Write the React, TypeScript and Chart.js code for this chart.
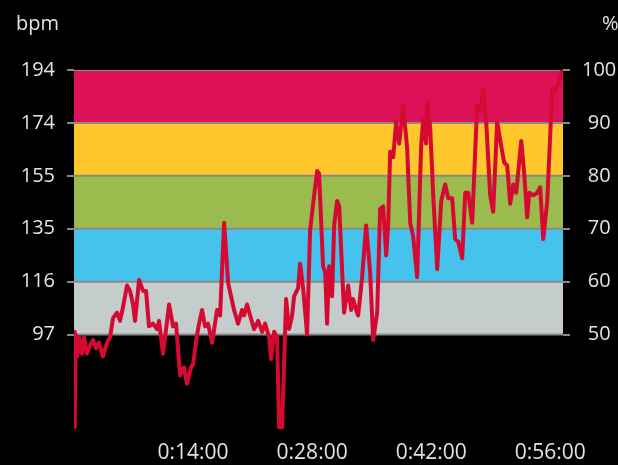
import React, { useEffect, useRef } from "react";
import { Chart, registerables } from "chart.js";

Chart.register(...registerables);

// ---- data ----
const MAX_HR = 194;
const zonePercents = [50, 60, 70, 80, 90, 100];
const zoneColors = ["#c5cccc", "#46c3ec", "#9bbb4e", "#ffc72c", "#dc1158"];
const xTickMinutes = [14, 28, 42, 56];
const X_MIN = 0;
const X_MAX = 57.5;
const Y_MIN = 62;

const timeMinutes = [
  0.0, 0.08, 0.2, 0.4, 0.59, 0.94, 1.18, 1.53, 1.88, 2.24, 2.59, 2.94, 3.41, 3.88, 4.24,
  4.59, 5.06, 5.41, 5.76, 6.24, 6.59, 6.94, 7.18, 7.65, 8.12, 8.47, 8.82, 9.29, 9.76,
  10.0, 10.47, 11.18, 11.65, 12.0, 12.47, 12.94, 13.29, 13.76, 14.0, 14.47, 14.71,
  15.06, 15.41, 15.76, 16.24, 16.82, 17.18, 17.65, 18.12, 18.47, 18.82, 19.29, 19.76,
  20.0, 20.35, 20.71, 21.18, 21.65, 22.12, 22.47, 22.94, 23.18, 23.53, 23.88, 24.12,
  24.47, 24.94, 25.29, 25.65, 25.88, 26.35, 26.59, 26.94, 27.41, 27.76, 28.12, 28.59,
  28.82, 29.29, 29.53, 29.76, 30.0, 30.35, 30.59, 30.94, 31.18, 31.76, 32.24, 32.59,
  32.82, 33.18, 33.41, 33.88, 34.35, 34.82, 35.18, 35.65, 36.0, 36.35, 36.71, 36.94,
  37.18, 37.53, 37.88, 38.24, 38.71, 39.18, 39.53, 39.88, 40.35, 40.82, 41.06, 41.41,
  41.53, 41.88, 42.24, 42.71, 43.18, 43.65, 44.0, 44.47, 44.82, 45.18, 45.65, 46.0,
  46.35, 46.82, 47.41, 47.76, 48.12, 48.47, 48.94, 49.29, 49.76, 50.24, 50.59, 50.94,
  51.29, 51.65, 52.0, 52.59, 52.94, 53.29, 53.53, 54.0, 54.47, 54.82, 55.18, 55.65,
  56.24, 56.59, 56.94, 57.41,
];

const heartRate = [
  98, 63, 97, 89, 96, 90, 96, 90, 93, 95, 92, 94, 89, 94, 96,
  103, 105, 102, 107, 115, 113, 108, 102, 117, 113, 113, 100, 101, 99,
  102, 90, 108, 100, 101, 82, 85, 79, 85, 86, 97, 101,
  106, 100, 101, 94, 106, 104, 138, 116, 111, 106, 101, 106,
  104, 108, 104, 99, 102, 98, 101, 96, 88, 98, 96, 63,
  63, 110, 99, 104, 111, 114, 123, 114, 97, 135, 145, 157,
  156, 122, 120, 101, 122, 111, 137, 146, 144, 105, 115, 106,
  110, 106, 104, 118, 137, 120, 95, 105, 143, 144, 126, 137,
  164, 162, 175, 167, 181, 165, 138, 133, 118, 166, 176, 167,
  182, 173, 148, 121, 146, 152, 147, 147, 132, 131, 125, 149,
  149, 138, 181, 179, 187, 175, 148, 142, 175, 166, 160, 159,
  145, 152, 149, 168, 156, 140, 149, 148, 149, 151, 132, 146,
  187, 186, 189, 194,
];

const TEXT_COLOR = "#e2e2e2";
const GRID_COLOR = "#8a8a8a";
const LINE_COLOR = "#d50a32";
const FONT_FAMILY = '"Open Sans", "Noto Sans", sans-serif';

const titlesPlugin = {
  id: "axisUnitTitles",
  afterDraw(chart: any) {
    const ctx = chart.ctx;
    ctx.save();
    ctx.font = `20px ${FONT_FAMILY}`;
    ctx.fillStyle = TEXT_COLOR;
    ctx.textBaseline = "alphabetic";
    ctx.textAlign = "left";
    ctx.fillText("bpm", 16, 30);
    ctx.fillText("%", 602, 30);
    ctx.restore();
  },
};

export default function App() {
  const canvasRef = useRef<HTMLCanvasElement | null>(null);

  useEffect(() => {
    if (!canvasRef.current) return;
    const levels = zonePercents.map((p) => (p / 100) * MAX_HR);

    const bandDatasets = levels.map((lvl, i) => ({
      type: "line" as const,
      data: [
        { x: X_MIN, y: lvl },
        { x: X_MAX, y: lvl },
      ],
      borderColor: GRID_COLOR,
      borderWidth: 2,
      pointRadius: 0,
      fill: i === 0 ? false : "-1",
      backgroundColor: i === 0 ? "transparent" : zoneColors[i - 1],
      order: 1,
    }));

    const hrDataset = {
      type: "line" as const,
      data: timeMinutes.map((t, i) => ({ x: t, y: heartRate[i] })),
      borderColor: LINE_COLOR,
      borderWidth: 4,
      borderJoinStyle: "round" as const,
      borderCapStyle: "round" as const,
      pointRadius: 0,
      fill: false,
      tension: 0,
      order: 0,
    };

    const setLevels = (scale: any) => {
      scale.ticks = levels.map((v) => ({ value: v }));
    };

    const chart = new Chart(canvasRef.current, {
      type: "line",
      data: { datasets: [hrDataset, ...bandDatasets] as any },
      options: {
        responsive: false,
        animation: false,
        layout: { padding: { top: 70, left: 0, right: 0, bottom: 0 } },
        plugins: {
          legend: { display: false },
          tooltip: { enabled: false },
        },
        scales: {
          x: {
            type: "linear",
            min: X_MIN,
            max: X_MAX,
            afterBuildTicks: (scale: any) => {
              scale.ticks = xTickMinutes.map((v) => ({ value: v }));
            },
            afterFit: (scale: any) => {
              scale.height = 35;
            },
            grid: { display: false, drawTicks: false },
            border: { display: false },
            ticks: {
              color: TEXT_COLOR,
              font: { family: FONT_FAMILY, size: 21 },
              padding: 10,
              maxRotation: 0,
              autoSkip: false,
              callback: (v: any) => `0:${String(v).padStart(2, "0")}:00`,
            },
          },
          y: {
            type: "linear",
            position: "left",
            min: Y_MIN,
            max: MAX_HR,
            afterBuildTicks: setLevels,
            afterFit: (scale: any) => {
              scale.width = 74;
            },
            grid: {
              drawOnChartArea: false,
              drawTicks: true,
              tickLength: 7,
              color: GRID_COLOR,
              lineWidth: 2,
            },
            border: { display: false },
            ticks: {
              color: TEXT_COLOR,
              font: { family: FONT_FAMILY, size: 20 },
              padding: 12,
              autoSkip: false,
              callback: (v: any) => String(Math.floor(Number(v) + 1e-9)),
            },
          },
          yRight: {
            type: "linear",
            position: "right",
            min: Y_MIN,
            max: MAX_HR,
            afterBuildTicks: setLevels,
            afterFit: (scale: any) => {
              scale.width = 55;
            },
            grid: {
              drawOnChartArea: false,
              drawTicks: true,
              tickLength: 7,
              color: GRID_COLOR,
              lineWidth: 2,
            },
            border: { display: false },
            ticks: {
              color: TEXT_COLOR,
              font: { family: FONT_FAMILY, size: 20 },
              padding: 12,
              crossAlign: "center",
              autoSkip: false,
              callback: (v: any) => String(Math.round((Number(v) / MAX_HR) * 100)),
            },
          },
        },
      },
      plugins: [titlesPlugin],
    });

    return () => chart.destroy();
  }, []);

  return (
    <div
      style={{
        position: "fixed",
        left: 0,
        top: 0,
        width: 618,
        height: 465,
        background: "#000",
      }}
    >
      <canvas ref={canvasRef} width={618} height={465} />
    </div>
  );
}
